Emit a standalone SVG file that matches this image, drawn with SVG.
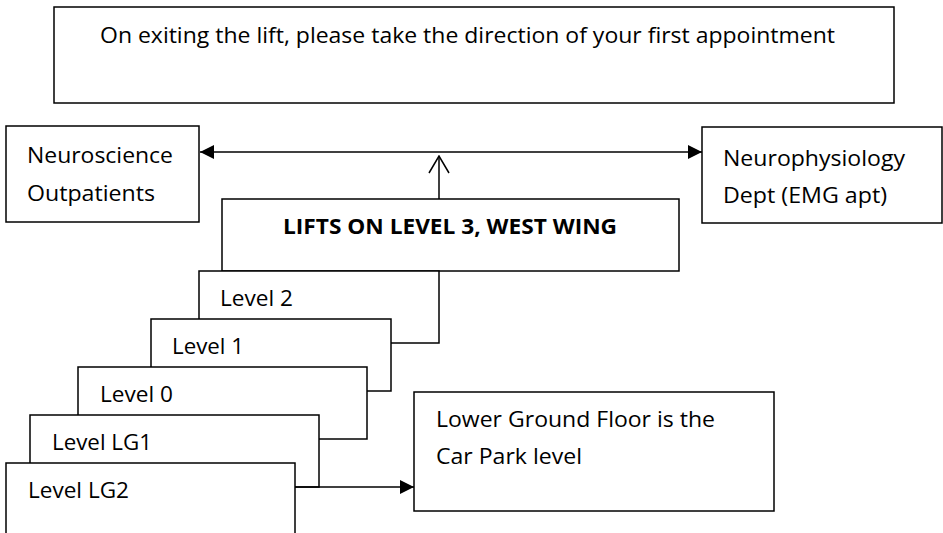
<svg xmlns="http://www.w3.org/2000/svg" width="943" height="533" viewBox="0 0 943 533">
<defs>
<style>
.box{fill:#fff;stroke:#000;stroke-width:1.5}
.t{font-family:"Open Sans","Liberation Sans",sans-serif;font-size:22px;fill:#000}
.b{font-weight:bold}
.ln{fill:none;stroke:#000;stroke-width:1.5}
</style>
<marker id="tri" viewBox="0 0 10 10" refX="10" refY="5" markerWidth="14" markerHeight="14" markerUnits="userSpaceOnUse" orient="auto-start-reverse">
<path d="M0,0 L10,5 L0,10 z" fill="#000"/>
</marker>
<marker id="open" viewBox="0 0 19 22" refX="18" refY="11" markerWidth="19" markerHeight="22" markerUnits="userSpaceOnUse" orient="auto">
<path d="M1,1 L18,11 L1,21" fill="none" stroke="#000" stroke-width="1.5"/>
</marker>
</defs>
<rect width="943" height="533" fill="#fff"/>
<g id="intro">
<rect class="box" x="54" y="7" width="840" height="96"/>
<text class="t" x="100" y="43" textLength="735" lengthAdjust="spacingAndGlyphs">On exiting the lift, please take the direction of your first appointment</text>
</g>
<g id="neuroscience">
<rect class="box" x="6" y="126" width="193" height="96"/>
<text class="t" x="27" y="163" textLength="146" lengthAdjust="spacingAndGlyphs">Neuroscience</text>
<text class="t" x="27" y="201" textLength="128" lengthAdjust="spacingAndGlyphs">Outpatients</text>
</g>
<g id="neurophysiology">
<rect class="box" x="702" y="127" width="240" height="96"/>
<text class="t" x="723" y="166" textLength="182" lengthAdjust="spacingAndGlyphs">Neurophysiology</text>
<text class="t" x="723" y="203" textLength="164" lengthAdjust="spacingAndGlyphs">Dept (EMG apt)</text>
</g>
<g id="lifts">
<rect class="box" x="222" y="199" width="457" height="72"/>
<text class="t b" x="283" y="234" textLength="334" lengthAdjust="spacingAndGlyphs">LIFTS ON LEVEL 3, WEST WING</text>
</g>
<g id="level2">
<rect class="box" x="199" y="271" width="240" height="72"/>
<text class="t" x="220" y="306" textLength="73" lengthAdjust="spacingAndGlyphs">Level 2</text>
</g>
<g id="level1">
<rect class="box" x="151" y="319" width="240" height="72"/>
<text class="t" x="172" y="354" textLength="72" lengthAdjust="spacingAndGlyphs">Level 1</text>
</g>
<g id="level0">
<rect class="box" x="78" y="367" width="289" height="72"/>
<text class="t" x="100" y="402" textLength="73" lengthAdjust="spacingAndGlyphs">Level 0</text>
</g>
<g id="levelLG1">
<rect class="box" x="30" y="415" width="289" height="72"/>
<text class="t" x="52" y="450" textLength="100" lengthAdjust="spacingAndGlyphs">Level LG1</text>
</g>
<g id="levelLG2">
<rect class="box" x="6" y="463" width="289" height="80"/>
<text class="t" x="28" y="498" textLength="101" lengthAdjust="spacingAndGlyphs">Level LG2</text>
</g>
<g id="carpark">
<rect class="box" x="414" y="392" width="360" height="119"/>
<text class="t" x="436" y="427" textLength="279" lengthAdjust="spacingAndGlyphs">Lower Ground Floor is the</text>
<text class="t" x="436" y="464" textLength="146" lengthAdjust="spacingAndGlyphs">Car Park level</text>
</g>
<g id="connectors">
<line class="ln" x1="200" y1="152" x2="702" y2="152" marker-start="url(#tri)" marker-end="url(#tri)"/>
<line class="ln" x1="439" y1="199" x2="439" y2="156" marker-end="url(#open)"/>
<line class="ln" x1="295" y1="487" x2="414" y2="487" marker-end="url(#tri)"/>
</g>
</svg>
